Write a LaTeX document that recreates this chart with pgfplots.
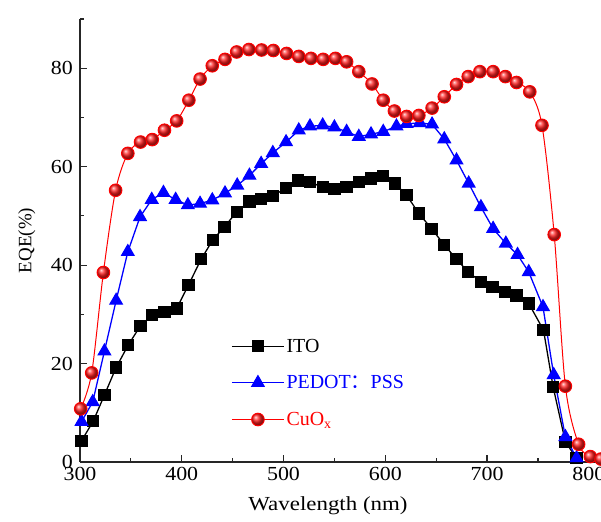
\documentclass[border=0pt]{standalone}
\usepackage{pgfplots}
\pgfplotsset{compat=1.18}
\usepackage{fontspec}
\setmainfont{Liberation Serif}
\newfontfamily\cjk{Noto Sans CJK SC}
\definecolor{ptblue}{RGB}{0,0,255}
\definecolor{cured}{RGB}{255,0,0}
\begin{document}
\begin{tikzpicture}
\useasboundingbox (-80bp,-60bp) rectangle (521bp,462bp);
\begin{axis}[
  scale only axis, width=521bp, height=443bp,
  xmin=300, xmax=812, ymin=0, ymax=90,
  axis x line*=bottom, axis y line*=left,
  axis line style={line width=1.5bp, black!85},
  tick align=inside,
  major tick length=7bp, minor tick length=4bp,
  every tick/.style={line width=1.2bp, black!85},
  xtick={300,400,...,800}, minor xtick={350,450,...,750},
  ytick={0,20,...,80}, minor ytick={10,30,...,90},
  /pgf/number format/assume math mode=true,
  ticklabel style={font=\fontsize{20}{22}\selectfont, xscale=1.1},
  xticklabel style={yshift=-2bp},
  yticklabel style={xshift=-3bp},
  clip=false,
  xlabel={Wavelength (nm)},
  xlabel style={font=\fontsize{20}{24}\selectfont, xscale=1.15, at={(axis description cs:0.476,-0.070)}, anchor=north},
  ylabel={EQE(\%)},
  ylabel style={font=\fontsize{19}{22}\selectfont, at={(axis description cs:-0.102,0.5)}, anchor=center},
  legend style={draw=none, fill=none, at={(axis description cs:0.29,0.283)}, anchor=north west,
    font=\fontsize{20}{22}\selectfont, row sep=18bp, inner sep=0pt},
  legend cell align=left,
  legend image code/.code={\draw[mark repeat=2,mark phase=2,#1] plot coordinates {(0bp,0bp) (26bp,0bp) (52bp,0bp)};},
]
\addplot[black, line width=1.3bp, mark=square*, mark size=5.5bp, mark options={solid}] coordinates {
(301.5,4.3)(313,8.3)(324,13.6)(335.5,19.2)(347.5,23.8)(359.5,27.7)(371,29.8)(383,30.5)(395,31.2)(406.5,35.9)(419,41.2)(430.5,45.1)(442,47.8)(454,50.8)(466.5,52.9)(478,53.4)(490,54.1)(502.5,55.7)(514,57.2)(526,56.9)(538.5,55.8)(550,55.4)(562,55.8)(574,56.9)(586,57.6)(598,58.1)(609.5,56.6)(621,54.2)(633,50.5)(645.5,47.4)(658,44.1)(670,41.2)(681.5,38.6)(694,36.6)(705.5,35.6)(717.5,34.6)(729,33.8)(741,32.2)(755.5,26.8)(765,15.2)(777,4.1)(788,0.75)
};
\addlegendentry{ITO}
\addplot[ptblue, line width=1.3bp, mark=triangle*, mark size=7bp] coordinates {
(301.5,8.2)(312.5,12.2)(324,22.5)(335.5,32.8)(347,42.7)(359,49.8)(370.5,53.3)(382,54.7)(394,53.3)(406,52.2)(418,52.5)(430,53.2)(442.5,54.6)(454.5,56.2)(466.5,58.2)(478,60.6)(489.5,62.8)(502.5,65.0)(515,67.4)(526,68.2)(538.5,68.4)(550,68.0)(562,67.1)(574,66.1)(586,66.6)(598,67.1)(611,68.2)(621,68.7)(634,68.9)(646,68.6)(658,65.6)(670,61.3)(682,56.6)(694,51.8)(706,47.4)(718.5,44.4)(730,42.1)(741,38.6)(755,31.5)(765.5,17.7)(777,5.1)(788,0.8)
};
\addlegendentry{\textcolor{ptblue}{PEDOT{\cjk ：}PSS}}
\addplot[cured, line width=1.0bp, smooth, mark=ball, mark size=6.3bp, mark options={ball color=red!88!white}] coordinates {
(300.7,10.8)(311.5,18.1)(323,38.5)(335,55.2)(347,62.7)(359.5,65.0)(371,65.5)(383,67.4)(395,69.3)(407,73.5)(418,77.8)(430,80.5)(442.5,81.8)(454,83.3)(466,83.8)(478.5,83.7)(490,83.6)(503,83.0)(515,82.4)(527,82.0)(539,81.8)(551,82.0)(562,81.3)(574,79.3)(587,76.8)(598,73.5)(609,71.3)(621,70.2)(633,70.4)(646,71.9)(658,74.2)(670,76.7)(681.5,78.3)(693,79.3)(706,79.3)(718,78.3)(729,77.1)(742,75.2)(754,68.4)(766,46.2)(777,15.4)(790,3.6)(801.5,1.1)(812,0.6)
};
\addlegendentry{\textcolor{cured}{CuO$_{\mathrm{x}}$}}
\end{axis}
\end{tikzpicture}
\end{document}
